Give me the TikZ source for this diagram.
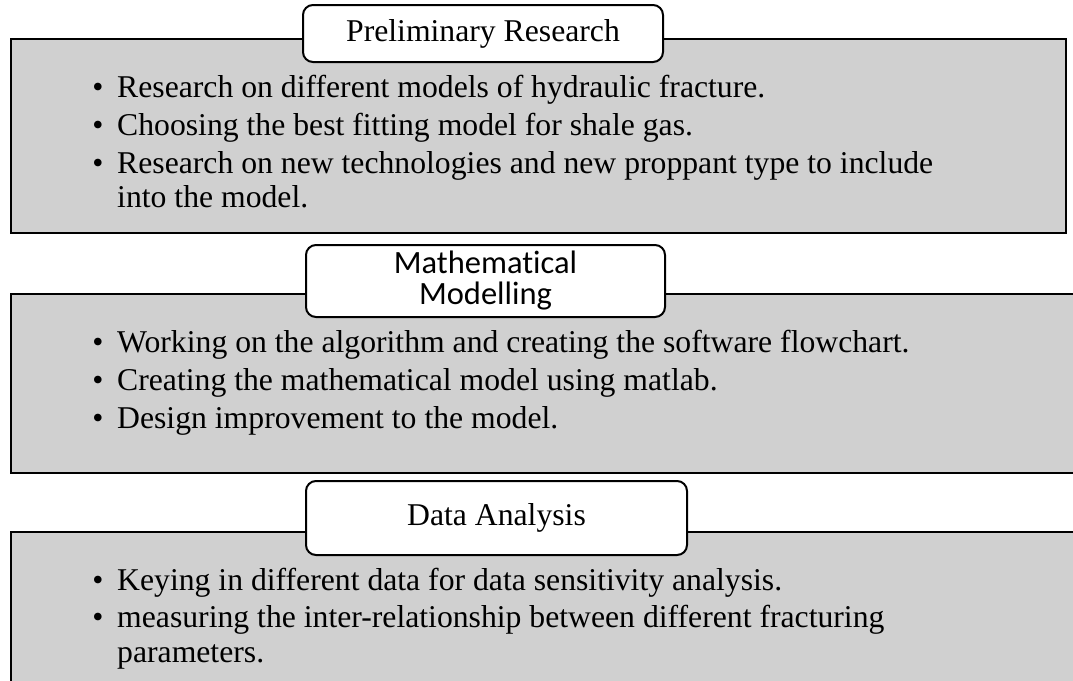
\documentclass[tikz,border=0pt]{standalone}
\usepackage{fontspec}
\setmainfont{Liberation Serif}
\newfontfamily\tabsans[Ligatures=NoCommon]{Carlito}
\definecolor{panelgray}{RGB}{208,208,208}
\newcommand{\bodyfont}{\fontsize{31.7}{38}\selectfont}
\newcommand{\tabfont}{\tabsans\fontsize{32.5}{31}\selectfont}

\begin{document}
\begin{tikzpicture}[x=1pt,y=-1pt,
  panel/.style={draw=black, line width=2.5pt, fill=panelgray, inner sep=0pt, outer sep=0pt},
  tabbox/.style={draw=black, line width=2pt, fill=white, rounded corners=10pt,
                 inner sep=0pt, outer sep=0pt, align=center, font=\bodyfont},
  dot/.style={anchor=base, inner sep=0pt, font=\bodyfont},
  itemtext/.style={anchor=base west, inner sep=0pt, font=\bodyfont}
]
\useasboundingbox (0,0) rectangle (1073,680);
\clip (0,0) rectangle (1073,680);

% stage panels
\node[panel, minimum width=1055pt, minimum height=194pt] (p1) at (538.5,136) {};
\node[panel, minimum width=1079pt, minimum height=179pt] (p2) at (550.5,383.5) {};
\node[panel, minimum width=1079pt, minimum height=168pt] (p3) at (550.5,616) {};

% stage titles
\node[tabbox, minimum width=360pt, minimum height=57pt] (t1) at (483,33.5) {Preliminary Research};
\node[tabbox, minimum width=359pt, minimum height=72pt, font=\tabfont] (t2) at (485.5,281) {Mathematical\\Modelling};
\node[tabbox, minimum width=381pt, minimum height=74pt] (t3) at (496.5,518) {Data Analysis};

% preliminary research
\node[dot] (d1a) at (98,97) {•};
\node[itemtext] (i1a) at (117,97) {Research on different models of hydraulic fracture.};
\node[dot] (d1b) at (98,135) {•};
\node[itemtext] (i1b) at (117,135) {Choosing the best fitting model for shale gas.};
\node[dot] (d1c) at (98,173) {•};
\node[itemtext] (i1c) at (117,173) {Research on new technologies and new proppant type to include};
\node[itemtext] (i1d) at (117,207) {into the model.};

% mathematical modelling
\node[dot] (d2a) at (98,352) {•};
\node[itemtext] (i2a) at (117,352) {Working on the algorithm and creating the software flowchart.};
\node[dot] (d2b) at (98,390) {•};
\node[itemtext] (i2b) at (117,390) {Creating the mathematical model using matlab.};
\node[dot] (d2c) at (98,428) {•};
\node[itemtext] (i2c) at (117,428) {Design improvement to the model.};

% data analysis
\node[dot] (d3a) at (98,590) {•};
\node[itemtext] (i3a) at (117,590) {Keying in different data for data sensitivity analysis.};
\node[dot] (d3b) at (98,627) {•};
\node[itemtext] (i3b) at (117,627) {measuring the inter-relationship between different fracturing};
\node[itemtext] (i3c) at (117,662) {parameters.};
\end{tikzpicture}
\end{document}
